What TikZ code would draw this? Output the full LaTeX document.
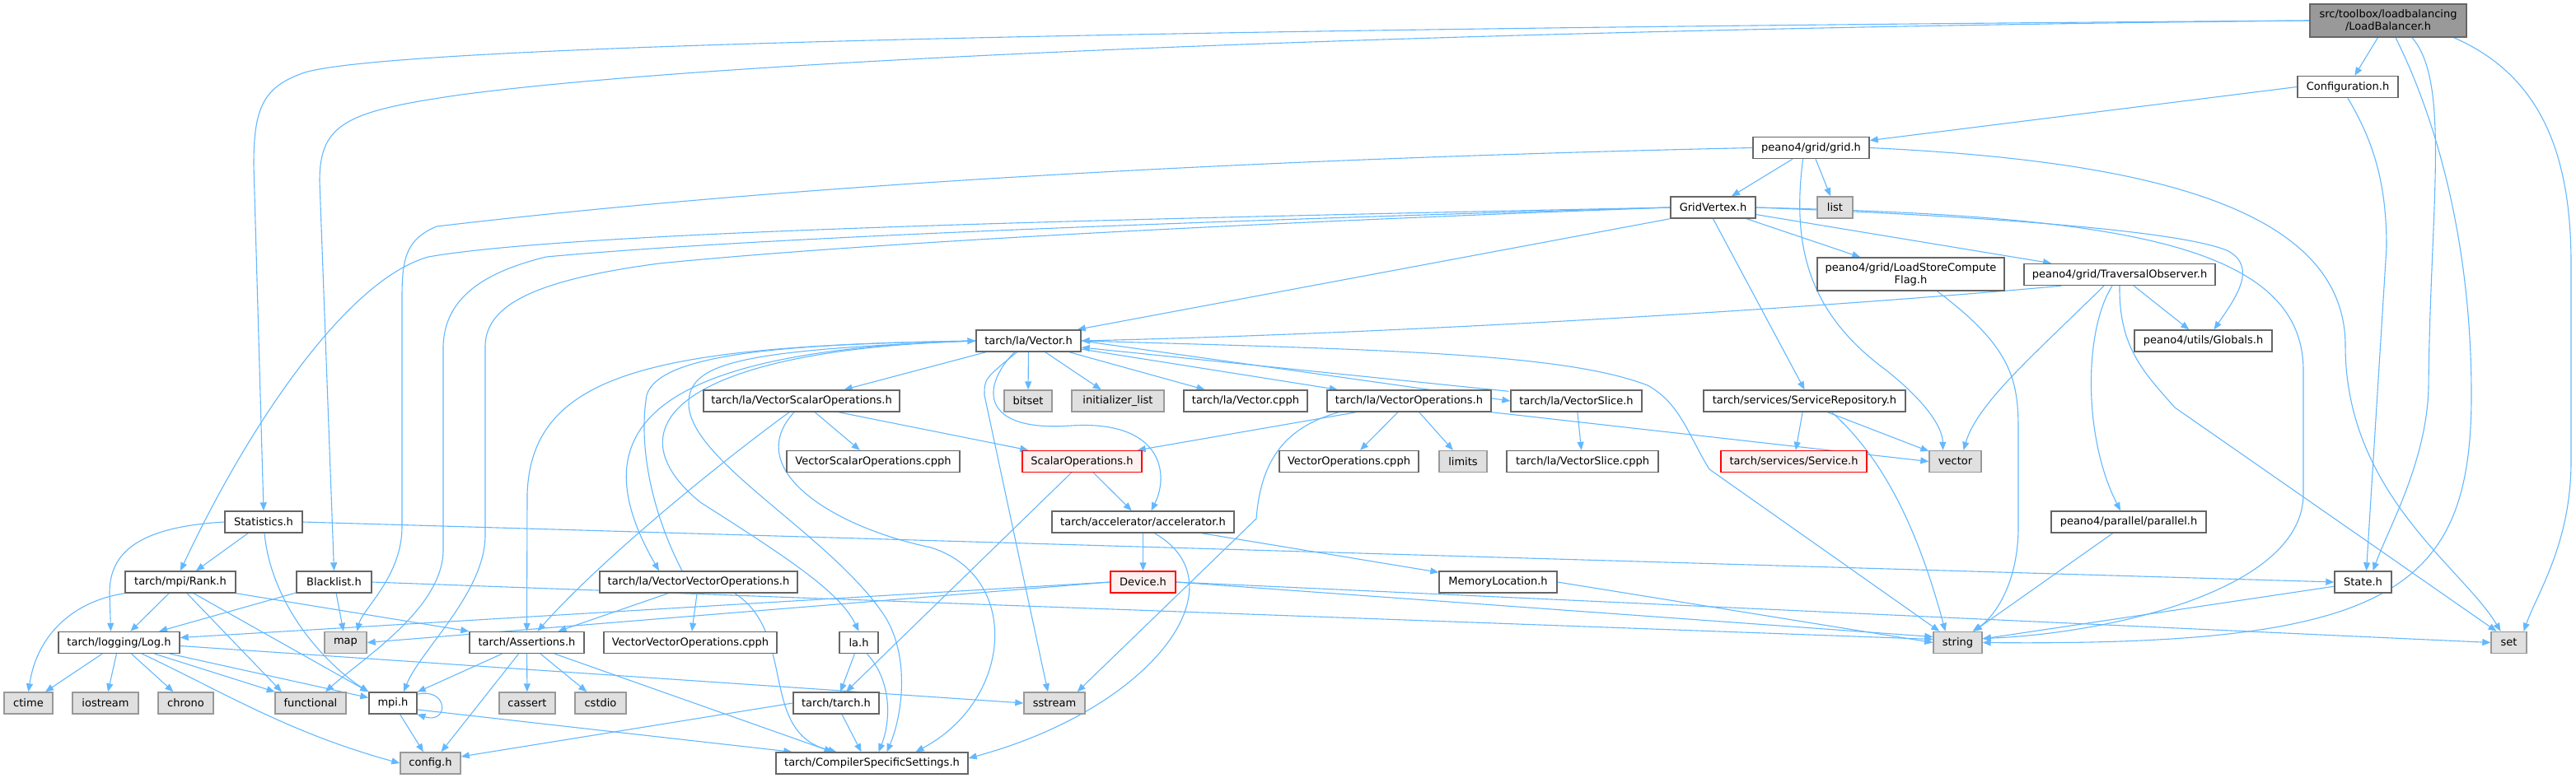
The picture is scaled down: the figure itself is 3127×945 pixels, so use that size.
\documentclass[tikz,border=0pt]{standalone}
\usepackage{fontspec}
\setmainfont{DejaVu Sans}
\usetikzlibrary{arrows.meta,calc,backgrounds}

\definecolor{edgeblue}{HTML}{63B8FF}
\definecolor{nodeline}{HTML}{666666}
\definecolor{sysfill}{HTML}{E0E0E0}
\definecolor{sysline}{HTML}{999999}
\definecolor{redline}{HTML}{FF0000}
\definecolor{redfill}{HTML}{FFF0F0}

\begin{document}
\begin{tikzpicture}[
  x=1pt, y=-1pt,
  file/.style={draw=nodeline, fill=white, line width=1.4pt, minimum height=26,
    inner sep=1pt, font=\fontsize{13}{15}\selectfont},
  sysfile/.style={file, draw=sysline, fill=sysfill},
  missing/.style={file, draw=redline, fill=redfill},
  root/.style={file, fill=sysline, minimum height=40, align=center},
  dep/.style={draw=edgeblue, line width=1.1pt, -{Triangle[length=10pt,width=8pt]}}
]
\useasboundingbox (0,0) rectangle (3127,945);

% top part
\node[root, minimum width=190] (lb) at (2899,25) {src/toolbox/loadbalancing\\/LoadBalancer.h};
\node[file, minimum width=122] (conf) at (2850,105.5) {Configuration.h};
\node[file, minimum width=141] (grid) at (2198.5,179.5) {peano4/grid/grid.h};
\node[file, minimum width=103] (gv) at (2079.5,252) {GridVertex.h};
\node[sysfile, minimum width=43] (list) at (2227.5,252) {list};
\node[file, minimum width=227, minimum height=40, align=center] (lscf) at (2319.5,333)
  {peano4/grid/LoadStoreCompute\\Flag.h};
\node[file, minimum width=232] (trav) at (2573,333.5) {peano4/grid/TraversalObserver.h};
\node[file, minimum width=167] (glob) at (2674.5,414) {peano4/utils/Globals.h};
\node[file, minimum width=127] (vec) at (1248.5,414) {tarch/la/Vector.h};

% tarch/la row
\node[file, minimum width=238] (vso) at (973,487) {tarch/la/VectorScalarOperations.h};
\node[sysfile, minimum width=58] (bitset) at (1248,487) {bitset};
\node[sysfile, minimum width=112] (initl) at (1357,487) {initializer\_list};
\node[file, minimum width=150] (vcpph) at (1512,487) {tarch/la/Vector.cpph};
\node[file, minimum width=199] (vops) at (1710.5,487) {tarch/la/VectorOperations.h};
\node[file, minimum width=159] (vslice) at (1913.5,487) {tarch/la/VectorSlice.h};
\node[file, minimum width=245] (srvrep) at (2190.5,487) {tarch/services/ServiceRepository.h};

\node[file, minimum width=210] (vsocpph) at (1060,560.5) {VectorScalarOperations.cpph};
\node[missing, minimum width=145] (scops) at (1313.5,560.5) {ScalarOperations.h};
\node[file, minimum width=169] (vopscpph) at (1637.5,560.5) {VectorOperations.cpph};
\node[sysfile, minimum width=58] (limits) at (1776,560.5) {limits};
\node[file, minimum width=184] (vslcpph) at (1921,560.5) {tarch/la/VectorSlice.cpph};
\node[missing, minimum width=177] (service) at (2177.5,560.5) {tarch/services/Service.h};
\node[sysfile, minimum width=63] (vector) at (2373.5,560.5) {vector};

\node[file, minimum width=94] (stats) at (320,634) {Statistics.h};
\node[file, minimum width=221] (accel) at (1387.5,634) {tarch/accelerator/accelerator.h};
\node[file, minimum width=188] (parallel) at (2584,634) {peano4/parallel/parallel.h};

\node[file, minimum width=134] (rank) at (219,707) {tarch/mpi/Rank.h};
\node[file, minimum width=91] (blacklist) at (405.5,707) {Blacklist.h};
\node[file, minimum width=240] (vvo) at (848,707) {tarch/la/VectorVectorOperations.h};
\node[missing, minimum width=79] (device) at (1387.5,707) {Device.h};
\node[file, minimum width=143] (memloc) at (1818.5,707) {MemoryLocation.h};
\node[file, minimum width=69] (state) at (2868.5,707) {State.h};

\node[file, minimum width=147] (log) at (144.5,780.5) {tarch/logging/Log.h};
\node[sysfile, minimum width=51] (map) at (419.5,780.5) {map};
\node[file, minimum width=139] (assert) at (639.5,780.5) {tarch/Assertions.h};
\node[file, minimum width=210] (vvocpph) at (838,780.5) {VectorVectorOperations.cpph};
\node[file, minimum width=47] (lah) at (1042.5,780.5) {la.h};
\node[sysfile, minimum width=59] (string) at (2376.5,780.5) {string};
\node[sysfile, minimum width=43] (set) at (3045.5,780.5) {set};

% bottom rows
\node[sysfile, minimum width=59] (ctime) at (34.5,854) {ctime};
\node[sysfile, minimum width=80] (iostream) at (128,854) {iostream};
\node[sysfile, minimum width=67] (chrono) at (225.5,854) {chrono};
\node[sysfile, minimum width=86] (functional) at (377,854) {functional};
\node[file, minimum width=58] (mpi) at (477,854) {mpi.h};
\node[sysfile, minimum width=68] (cassert) at (640,854) {cassert};
\node[sysfile, minimum width=62] (cstdio) at (729,854) {cstdio};
\node[file, minimum width=104] (tarchh) at (1015,854) {tarch/tarch.h};
\node[sysfile, minimum width=74] (sstream) at (1280,854) {sstream};
\node[sysfile, minimum width=73] (config) at (522.5,927) {config.h};
\node[file, minimum width=233] (css) at (1058.5,927) {tarch/CompilerSpecificSettings.h};

\begin{scope}[on background layer]
% LoadBalancer.h
\draw[dep] (lb) -- (conf);
\draw[dep] (lb.west) .. controls (1400,35) and (480,55) .. (370,88)
  .. controls (320,105) and (308,130) .. (308,200) -- (stats.north);
\draw[dep] (lb.west) .. controls (1800,35) and (900,70) .. (560,115)
  .. controls (420,135) and (388,150) .. (388,220) -- (blacklist.north);
\draw[dep] ($(lb.south)+(29,0)$) .. controls (2975,100) and (2950,250) .. (2948,470)
  .. controls (2946,560) and (2900,640) .. ($(state.north)+(12,0)$);
\draw[dep] ($(lb.south)+(9,0)$) .. controls (2960,150) and (3000,300) .. (3000,480)
  .. controls (3000,720) and (2900,785) .. (string.east);
\draw[dep] ($(lb.south east)+(-16,0)$) .. controls (3080,90) and (3121,180) .. (3121,320)
  -- (3121,560) .. controls (3121,660) and (3080,720) .. ($(set.north)+(18,0)$);

% Configuration.h, grid.h
\draw[dep] (conf.west) -- (grid);
\draw[dep] (conf.south) .. controls (2880,170) and (2897,220) .. (2897,300)
  -- ($(state.north)+(4,0)$);
\draw[dep] (grid) -- (gv);
\draw[dep] (grid) -- (list);
\draw[dep] ($(grid.south)+(-10,0)$) .. controls (2175,300) and (2195,380) .. (2290,450)
  .. controls (2340,490) and (2358,520) .. ($(vector.north)+(-15,0)$);
\draw[dep] (grid.east) .. controls (2600,195) and (2847,250) .. (2847,420)
  .. controls (2847,600) and (2990,690) .. ($(set.north)+(-10,0)$);
\draw[dep] (grid.west) .. controls (1200,200) and (700,255) .. (530,275)
  .. controls (495,290) and (488,310) .. (488,360) -- (488,640)
  .. controls (488,700) and (440,740) .. ($(map.north)+(14,0)$);

% GridVertex.h
\draw[dep] (gv.south west) -- ($(vec.north east)+(-5,0)$);
\draw[dep] (gv) -- (lscf);
\draw[dep] (gv) -- (trav);
\draw[dep] (gv.south) -- (srvrep.north);
\draw[dep] (gv.east) .. controls (2400,262) and (2650,280) .. (2705,305)
  .. controls (2740,325) and (2715,360) .. ($(glob.north)+(13,0)$);
\draw[dep] (gv.east) .. controls (2550,262) and (2796,290) .. (2796,450) -- (2796,600)
  .. controls (2796,720) and (2550,770) .. ($(string.east)+(0,-5)$);
\draw[dep] (gv.west) .. controls (1400,265) and (700,280) .. (520,312)
  .. controls (420,340) and (300,520) .. (rank.north);
\draw[dep] (gv.west) .. controls (1400,270) and (900,290) .. (663,312)
  .. controls (590,330) and (540,360) .. (538,420) -- (538,670)
  .. controls (536,740) and (440,800) .. ($(functional.north)+(18,0)$);
\draw[dep] (gv.west) .. controls (1400,275) and (1000,300) .. (800,320)
  .. controls (650,340) and (590,370) .. (589,420) -- (589,650)
  .. controls (589,720) and (510,790) .. ($(mpi.north)+(13,0)$);

% TraversalObserver.h
\draw[dep] ($(trav.south west)+(46,0)$) .. controls (2200,375) and (1700,405) .. (vec.east);
\draw[dep] (trav) -- (glob);
\draw[dep] ($(trav.south)+(-19,0)$) .. controls (2470,430) and (2400,490) .. ($(vector.north)+(10,0)$);
\draw[dep] ($(trav.south)+(-9,0)$) .. controls (2530,400) and (2528,530) .. ($(parallel.north)+(-10,0)$);
\draw[dep] (trav.south) .. controls (2572,420) and (2600,450) .. (2640,495) -- ($(set.north)+(-15,0)$);

% services, parallel, state
\draw[dep] ($(lscf.south)+(32,0)$) .. controls (2440,420) and (2450,460) .. (2450,520) -- (2450,640)
  .. controls (2450,710) and (2420,750) .. ($(string.north)+(18,0)$);
\draw[dep] (srvrep) -- (service);
\draw[dep] ($(srvrep.south)+(28,0)$) -- (vector);
\draw[dep] ($(srvrep.south)+(33,0)$) .. controls (2290,560) and (2330,650) .. ($(string.north)+(-15,0)$);
\draw[dep] (parallel) -- (string);
\draw[dep] (state) -- (string);

% Statistics.h, Blacklist.h, Rank.h
\draw[dep] (stats) -- (rank);
\draw[dep] (stats.west) .. controls (170,640) and (133,670) .. (133,720) -- ($(log.north)+(-10,0)$);
\draw[dep] ($(stats.south)+(1,0)$) .. controls (330,740) and (400,810) .. (mpi.north west);
\draw[dep] (stats.east) -- (state.west);
\draw[dep] (blacklist) -- (log);
\draw[dep] (blacklist) -- (map);
\draw[dep] (blacklist.east) -- ($(string.west)+(0,-4)$);
\draw[dep] (rank) -- (log);
\draw[dep] (rank.south east) -- (assert.north west);
\draw[dep] ($(rank.south)+(8,0)$) -- ($(functional.north)+(-35,0)$);
\draw[dep] ($(rank.south)+(16,0)$) -- (mpi.north west);
\draw[dep] (rank.south west) .. controls (90,730) and (45,770) .. (ctime.north);

% Log.h, Assertions.h, mpi.h
\draw[dep] (log) -- (ctime);
\draw[dep] (log) -- (iostream);
\draw[dep] (log) -- (chrono);
\draw[dep] (log) -- (functional);
\draw[dep] (log) -- (mpi);
\draw[dep] ($(log.south)+(28,0)$) .. controls (270,840) and (350,890) .. (config.west);
\draw[dep] ($(log.east)+(0,4)$) -- (sstream.west);
\draw[dep] (assert) -- (mpi);
\draw[dep] ($(assert.south)+(-10,0)$) -- ($(config.north)+(13,0)$);
\draw[dep] (assert) -- (cassert);
\draw[dep] (assert) -- (cstdio);
\draw[dep] ($(assert.south)+(34,0)$) -- ($(css.north)+(-48,0)$);
\draw[dep] (mpi) -- (config);
\draw[dep] (mpi.-15) -- ($(css.north west)+(20,0)$);
\draw[dep] (mpi.20) .. controls (545,835) and (545,880) .. (mpi.-25);
\draw[dep] (tarchh.west) -- ($(config.east)+(0,-8)$);
\draw[dep] (tarchh) -- ($(css.north)+(-13,0)$);
\draw[dep] (lah) -- (tarchh);
\draw[dep] ($(lah.south)+(10,0)$) .. controls (1085,830) and (1080,880) .. ($(css.north)+(8,0)$);

% accelerator
\draw[dep] (scops) -- (accel);
\draw[dep] ($(scops.south)+(-13,0)$) -- ($(tarchh.north)+(12,0)$);
\draw[dep] (accel) -- (device);
\draw[dep] ($(accel.south east)+(-40,0)$) -- (memloc);
\draw[dep] ($(accel.south)+(14,0)$) .. controls (1510,710) and (1400,860) .. ($(css.east)+(0,-6)$);
\draw[dep] (device.west) -- ($(log.east)+(0,-6)$);
\draw[dep] (device.west) -- (map.east);
\draw[dep] (device.east) -- ($(string.west)+(0,-7)$);
\draw[dep] (device.east) -- (set.west);
\draw[dep] (memloc.east) -- (string.west);

% Vector.h
\draw[dep] (vec) -- (vso);
\draw[dep] (vec) -- (bitset);
\draw[dep] (vec) -- (initl);
\draw[dep] (vec) -- (vcpph);
\draw[dep] (vec) -- (vops);
\draw[dep] (vec.east) -- (vslice.west);
\draw[dep] ($(vslice.north west)+(-2,2)$) -- ($(vec.east)+(0,8)$);
\draw[dep] (vec.west) .. controls (800,420) and (645,450) .. (640,600) -- (assert.north);
\draw[dep] (vec.west) .. controls (790,425) and (700,520) .. ($(vvo.north)+(-48,0)$);
\draw[dep] ($(vvo.north)+(-20,0)$) .. controls (790,620) and (775,540) .. (785,480)
  .. controls (800,430) and (950,418) .. (vec.west);
\draw[dep] (vec.west) .. controls (820,425) and (740,520) .. (850,610)
  .. controls (960,680) and (1020,720) .. (lah.north);
\draw[dep] (vec.west) .. controls (900,425) and (836,440) .. (836,490)
  .. controls (836,560) and (1010,650) .. (1075,750)
  .. controls (1105,800) and (1095,870) .. ($(css.north)+(18,0)$);
\draw[dep] ($(vec.south)+(-17,0)$) .. controls (1190,470) and (1190,525) .. (1300,517)
  .. controls (1410,510) and (1420,575) .. ($(accel.north)+(10,0)$);
\draw[dep] ($(vec.south)+(-14,0)$) .. controls (1195,460) .. (1195,480) -- ($(sstream.north)+(-8,0)$);
\draw[dep] (vec.east) .. controls (1700,425) and (1900,430) .. (2000,468)
  .. controls (2040,490) and (2050,530) .. (2075,570) -- ($(string.north west)+(8,0)$);

% tarch/la headers
\draw[dep] (vops) -- (vopscpph);
\draw[dep] (vops) -- (limits);
\draw[dep] ($(vops.south west)+(36,0)$) -- ($(scops.north east)+(-6,0)$);
\draw[dep] ($(vops.south west)+(15,0)$) .. controls (1555,520) and (1530,565) .. (1525,630)
  -- ($(sstream.north east)+(-10,0)$);
\draw[dep] (vops.south east) -- (vector.west);
\draw[dep] (vslice) -- (vslcpph);
\draw[dep] (vso) -- (vsocpph);
\draw[dep] ($(vso.south)+(45,0)$) -- ($(scops.north west)+(8,0)$);
\draw[dep] ($(vso.south)+(-15,0)$) .. controls (850,580) and (720,690) .. ($(assert.north)+(13,0)$);
\draw[dep] ($(vso.south)+(-9,0)$) .. controls (900,570) and (1010,640) .. (1130,665)
  .. controls (1240,700) and (1230,850) .. ($(css.north)+(53,0)$);
\draw[dep] (vvo) -- (vvocpph);
\draw[dep] ($(vvo.south)+(-37,0)$) -- ($(assert.north)+(38,0)$);
\draw[dep] ($(vvo.south)+(44,0)$) .. controls (968,770) and (920,890) .. ($(css.north)+(-43,0)$);
\end{scope}
\end{tikzpicture}
\end{document}
